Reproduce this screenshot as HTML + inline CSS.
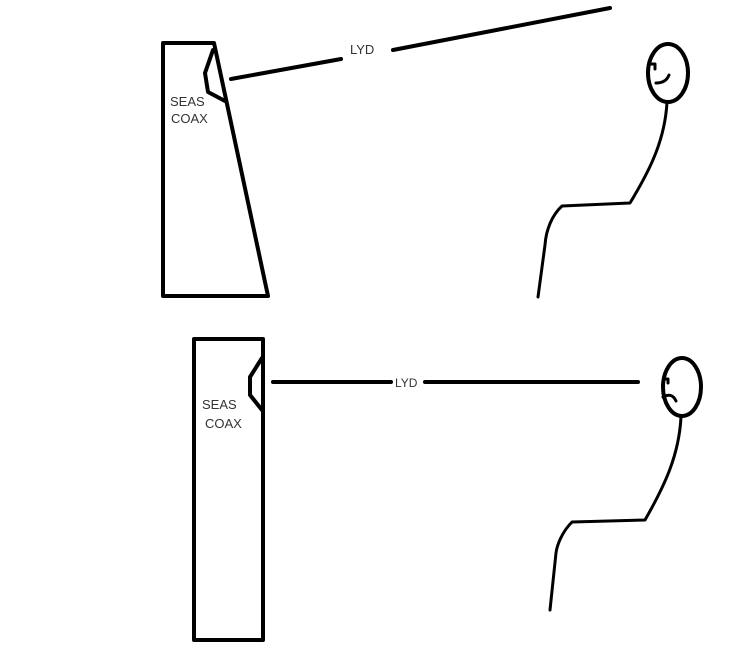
<!DOCTYPE html>
<html><head><meta charset="utf-8"><style>
html,body{margin:0;padding:0;background:#fff;}
svg{display:block;}
text{font-family:"Liberation Sans",sans-serif;fill:#333;}
</style></head><body>
<svg width="750" height="653" viewBox="0 0 750 653" xmlns="http://www.w3.org/2000/svg">
<g fill="none" stroke="#000" stroke-width="4" stroke-linejoin="round" stroke-linecap="round">
<!-- top speaker -->
<polyline points="163,296 163,43 214,43 268,296 163,296"/>
<polyline points="213,50 205,73 208,92 225,101"/>
<line x1="231" y1="79" x2="341" y2="59"/>
<line x1="393" y1="50" x2="610" y2="8"/>
<!-- top person -->
<ellipse cx="668" cy="73" rx="20" ry="29"/>
<path d="M667,102 C665,140 650,170 630,203 L562,206 C552,215 546,230 545,245 L538,297" stroke-width="3"/>
<polyline points="651,64 655,64 655,69" stroke-width="3"/>
<path d="M656,83 Q666,83 669,75" stroke-width="3"/>
<!-- bottom speaker -->
<rect x="194" y="339" width="69" height="301"/>
<polyline points="262,358 250,377 250,395 262,410"/>
<line x1="273" y1="382" x2="391" y2="382"/>
<line x1="425" y1="382" x2="638" y2="382"/>
<!-- bottom person -->
<ellipse cx="682" cy="387" rx="19" ry="29"/>
<path d="M681,417 C679,455 665,485 645,520 L572,522 C562,532 557,545 556,553 L550,610" stroke-width="3"/>
<polyline points="664,379 668,379 668,383" stroke-width="3"/>
<path d="M663,397 Q672,392 676,401" stroke-width="3"/>
</g>
<text x="350" y="54" font-size="13">LYD</text>
<text x="395" y="387" font-size="12">LYD</text>
<text x="170" y="106" font-size="13">SEAS</text>
<text x="171" y="123" font-size="13">COAX</text>
<text x="202" y="409" font-size="13">SEAS</text>
<text x="205" y="428" font-size="13">COAX</text>
</svg>
</body></html>
